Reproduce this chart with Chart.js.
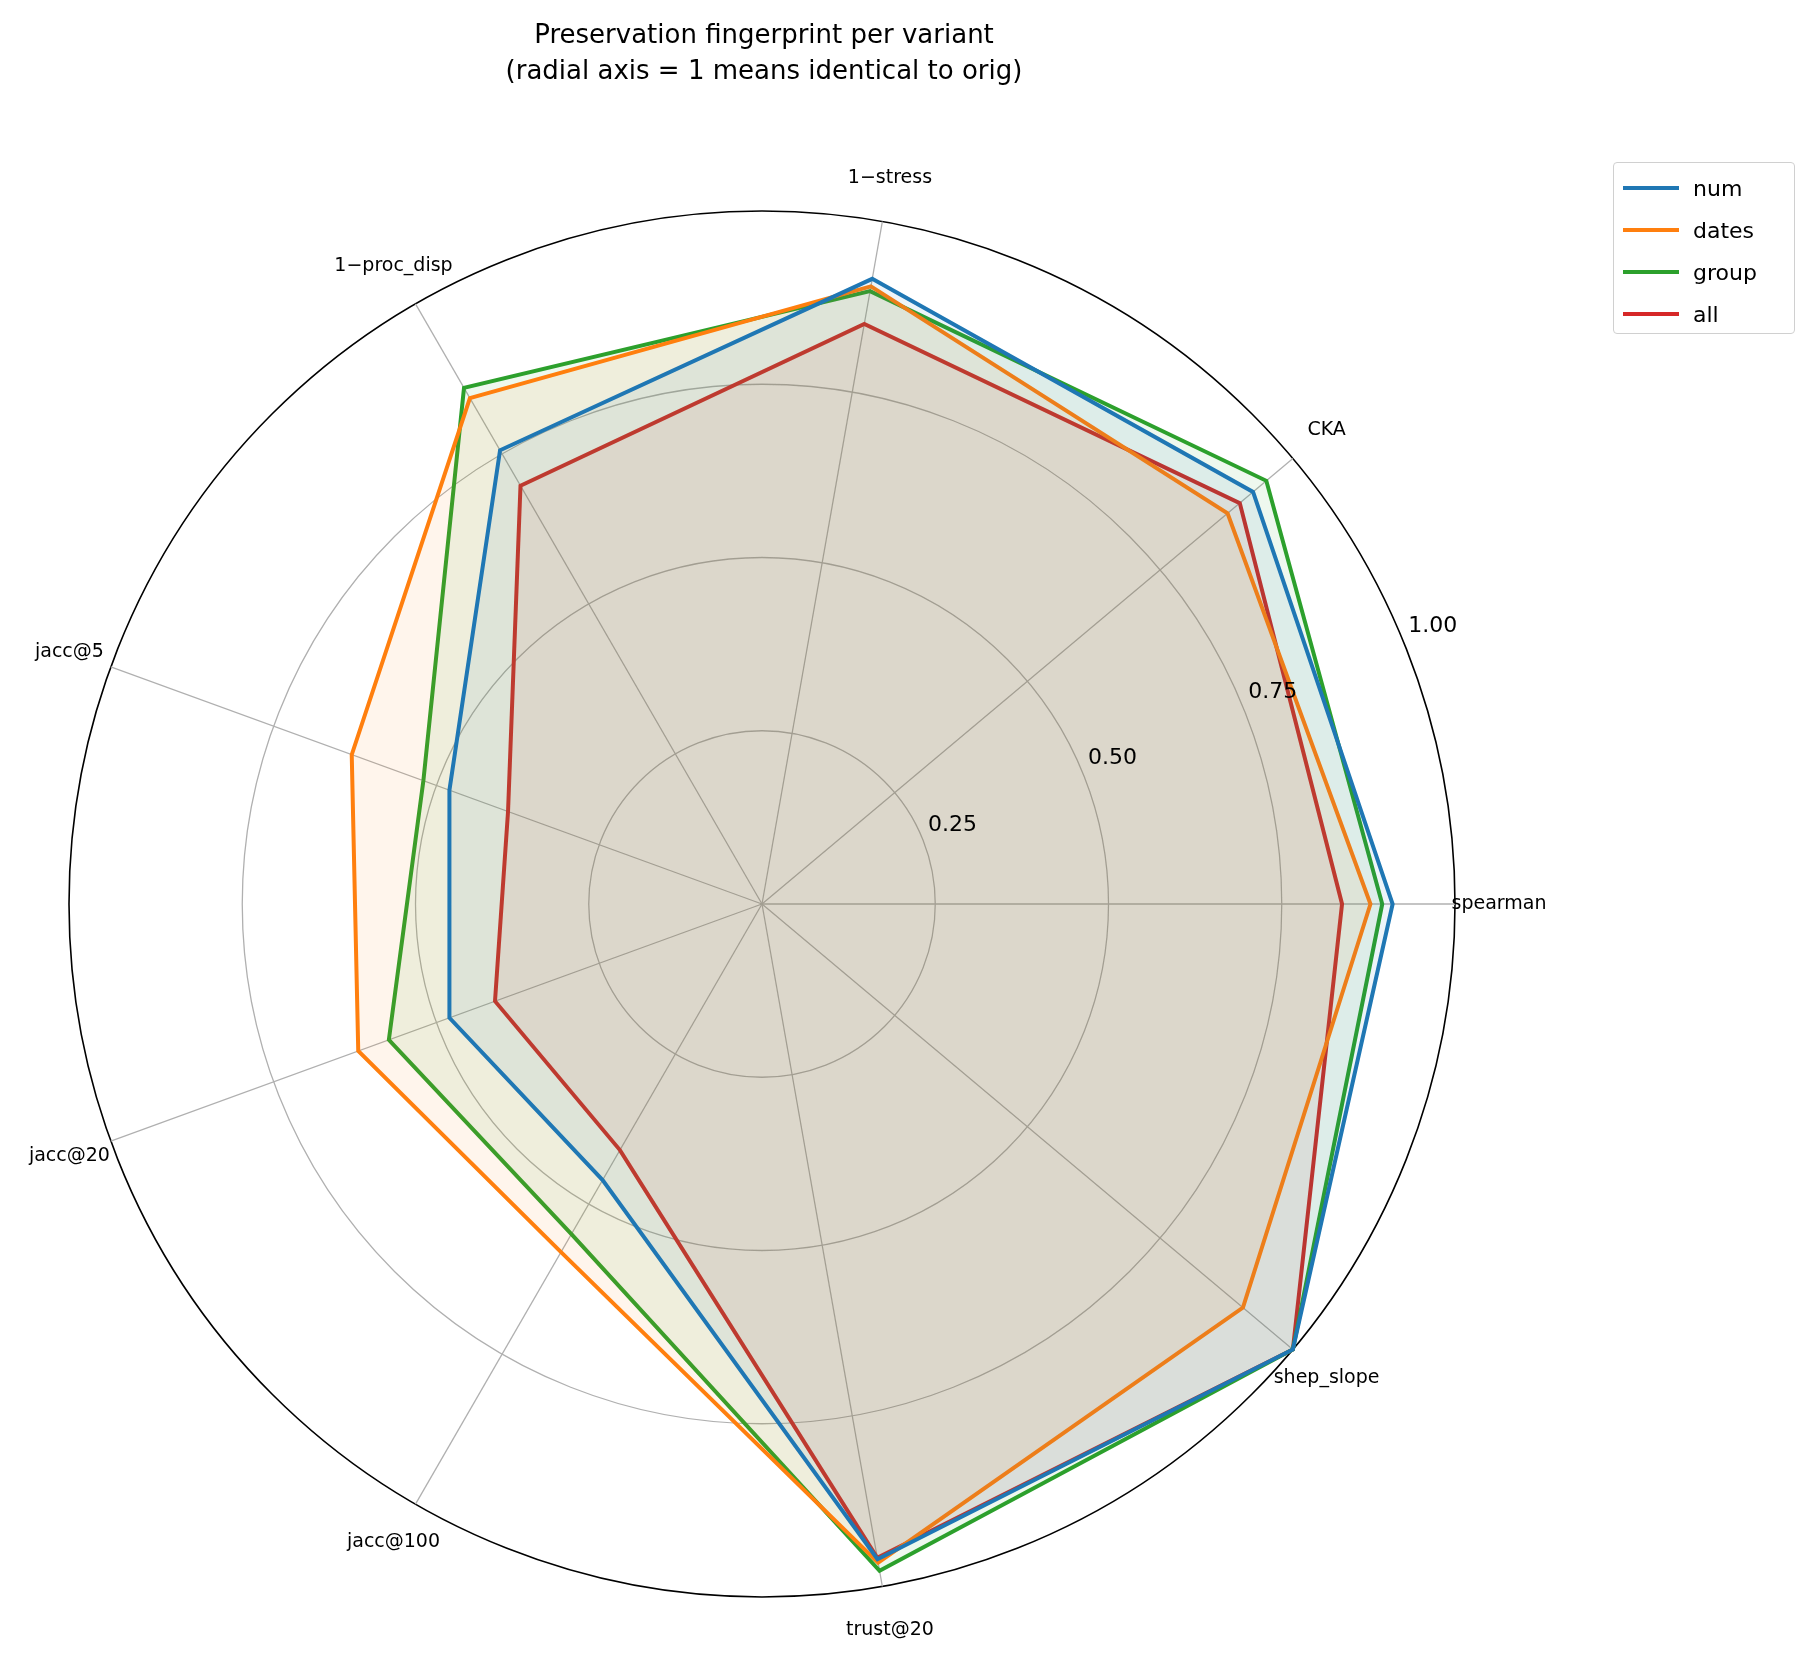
<!DOCTYPE html>
<html>
<head>
<meta charset="utf-8">
<script src="https://cdn.jsdelivr.net/npm/chart.js@4"></script>
<style>
  body { margin: 0; background: #fff; font-family: "DejaVu Sans", sans-serif; }
  #wrap { position: relative; width: 1806px; height: 1657px; }
  #title { position: absolute; left: 314px; width: 900px; top: 16px; text-align: center; font-size: 26px; line-height: 36px; color: #000; }
  #legend { position: absolute; left: 1613px; top: 162px; width: 182px; height: 172px; border: 1px solid #d0d0d0; border-radius: 4px; box-sizing: border-box; padding-top: 4px; }
  .item { height: 42px; display: flex; align-items: center; font-size: 22px; }
  .sw { width: 56px; height: 4px; margin: 0 14px 0 9px; }
  canvas { position: absolute; left: 0; top: 0; }
</style>
</head>
<body>
<div id="wrap">
  <canvas id="c" width="1806" height="1657"></canvas>
  <div id="title">Preservation fingerprint per variant<br>(radial axis = 1 means identical to orig)</div>
  <div id="legend"></div>
</div>
<script>
// order runs clockwise from the right so it matches the counter-clockwise original
const labels = ["spearman", "shep_slope", "trust@20", "jacc@100", "jacc@20", "jacc@5", "1\u2212proc_disp", "1\u2212stress", "CKA"];
const seriesNames = ["num", "dates", "group", "all"];
const colors = ["#1f77b4", "#ff7f0e", "#2ca02c", "#d62728"];
const numVals   = [0.91, 1.00, 0.96, 0.46, 0.48, 0.48, 0.756, 0.916, 0.925];
const datesVals = [0.878, 0.906, 0.965, 0.58, 0.62, 0.63, 0.843, 0.905, 0.877];
const groupVals = [0.895, 1.00, 0.977, 0.55, 0.573, 0.52, 0.86, 0.898, 0.95];
const allVals   = [0.837, 1.00, 0.958, 0.41, 0.41, 0.39, 0.697, 0.85, 0.90];
const tickValues = [0.25, 0.5, 0.75, 1.0];

const allSeries = [numVals, datesVals, groupVals, allVals];

const CX = 762, CY = 904, R = 693;

function alpha(hex, a) {
  const n = parseInt(hex.slice(1), 16);
  return `rgba(${n >> 16},${(n >> 8) & 255},${n & 255},${a})`;
}

// legend
const leg = document.getElementById("legend");
seriesNames.forEach((n, i) => {
  leg.innerHTML += `<div class="item"><div class="sw" style="background:${colors[i]}"></div>${n}</div>`;
});

// labels and tick numbers drawn by hand, matplotlib-style
const labelPlugin = {
  id: "labelPlugin",
  afterDraw(chart) {
    const s = chart.scales.r;
    const ctx = chart.ctx;
    ctx.save();
    ctx.fillStyle = "#000";
    ctx.textAlign = "center";
    ctx.textBaseline = "middle";
    ctx.font = "19px 'DejaVu Sans'";
    labels.forEach((l, i) => {
      const p = s.getPointPosition(i, R + 44);
      ctx.fillText(l, p.x, p.y);
    });
    ctx.font = "22px 'DejaVu Sans'";
    const a = 22.5 * Math.PI / 180;
    tickValues.forEach(v => {
      const r = s.getDistanceFromCenterForValue(v) + 33;
      ctx.fillText(v.toFixed(2), s.xCenter + r * Math.cos(a), s.yCenter - r * Math.sin(a));
    });
    ctx.restore();
  }
};

new Chart(document.getElementById("c"), {
  type: "radar",
  data: {
    labels,
    datasets: allSeries.map((d, i) => ({
      label: seriesNames[i],
      data: d,
      borderColor: colors[i],
      backgroundColor: alpha(colors[i], 0.08),
      borderWidth: 4,
      pointRadius: 0,
      fill: true,
      tension: 0
    }))
  },
  options: {
    responsive: false,
    animation: false,
    devicePixelRatio: 1,
    plugins: { legend: { display: false }, tooltip: { enabled: false } },
    scales: {
      r: {
        min: 0,
        max: 1,
        startAngle: 90,
        ticks: { stepSize: 0.25, display: false },
        pointLabels: { display: false },
        grid: {
          circular: true,
          color: c => c.tick && c.tick.value === 1 ? "#000" : "#b0b0b0",
          lineWidth: c => c.tick && c.tick.value === 1 ? 1.6 : 1.3
        },
        angleLines: { color: "#b0b0b0", lineWidth: 1.3 },
        afterFit: s => { s.xCenter = CX; s.yCenter = CY; s.drawingArea = R; }
      }
    }
  },
  plugins: [labelPlugin]
});
</script>
</body>
</html>
